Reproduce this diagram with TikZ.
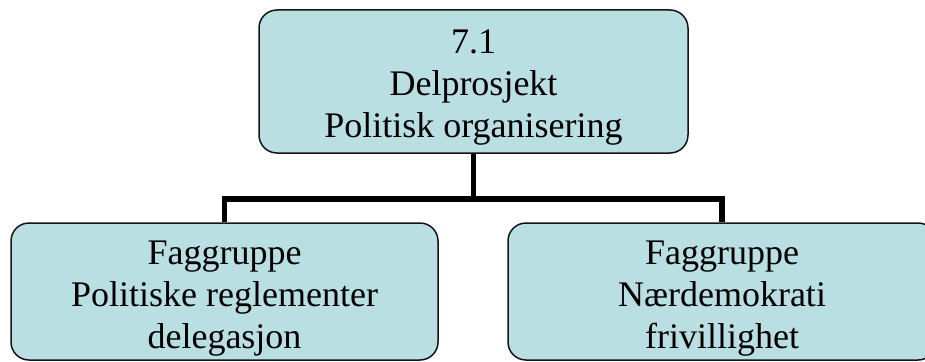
\documentclass[tikz,border=0pt]{standalone}
\usepackage{fontspec}
\setmainfont{Liberation Serif}
\definecolor{boxfill}{RGB}{185,223,227}
\definecolor{boxline}{RGB}{20,20,20}
\begin{document}
\begin{tikzpicture}[x=1pt,y=-1pt,
  box/.style={rectangle, rounded corners=18pt, draw=boxline, line width=1.5pt, fill=boxfill, inner sep=0pt},
  txt/.style={align=center, inner sep=0pt, font=\fontsize{36}{41.8}\selectfont, anchor=base},
  conn/.style={draw=black, line width=5.5pt, line join=miter, line cap=butt}]
\clip (0,0) rectangle (925,361);
\fill[white] (0,0) rectangle (925,361);
% connectors
\coordinate (bar) at (473.5,199);
\node[box, minimum width=429pt, minimum height=143pt] (top) at (473.5,81.5) {};
\node[box, minimum width=427pt, minimum height=137pt] (left) at (224.5,291.5) {};
\node[box, minimum width=428pt, minimum height=137pt] (right) at (722,291.5) {};
\draw[conn] (top.south) -- (bar);
\draw[conn] (left.north) |- (bar) -| (right.north);
% texts (base anchor = baseline of last line)
\node[txt] (toptxt) at (473.5,137.3) {7.1\\Delprosjekt\\Politisk organisering};
\node[txt] (lefttxt) at (224.5,348.3) {Faggruppe\\Politiske reglementer\\delegasjon};
\node[txt] (righttxt) at (722,348.3) {Faggruppe\\Nærdemokrati\\frivillighet};
\end{tikzpicture}
\end{document}
